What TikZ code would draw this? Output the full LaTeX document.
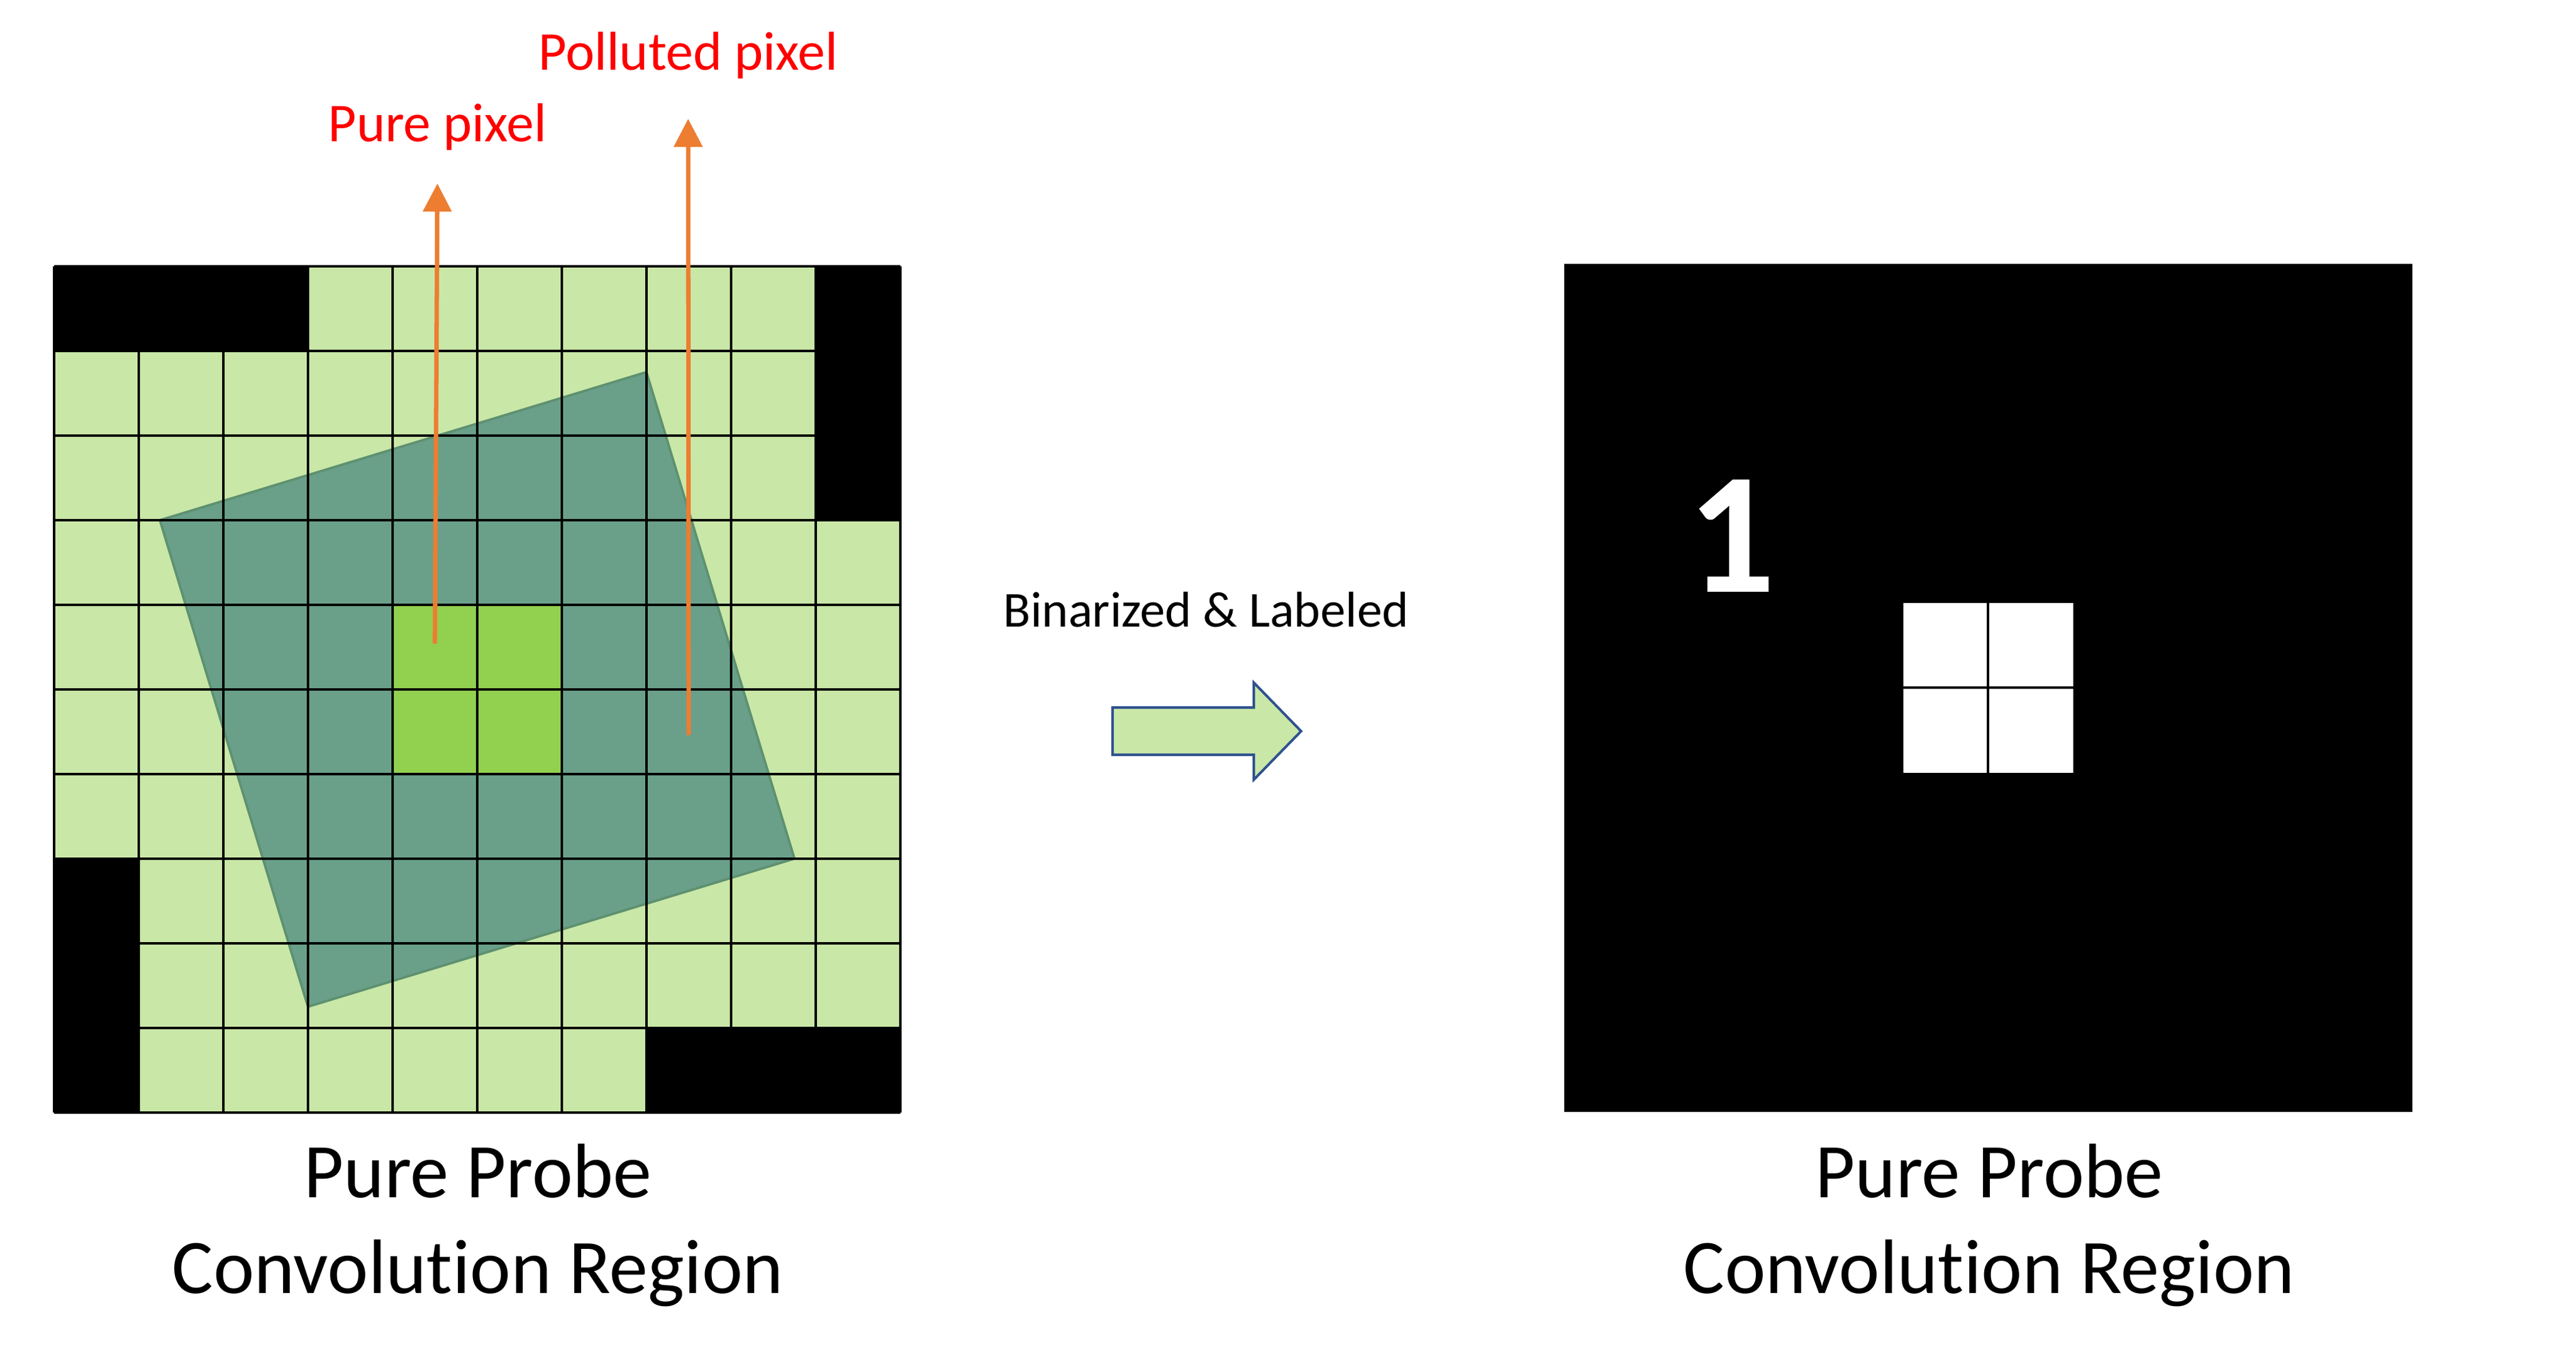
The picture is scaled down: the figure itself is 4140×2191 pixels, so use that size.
\documentclass[tikz,border=0pt]{standalone}
\usepackage{fontspec}
\setmainfont{Carlito}[Ligatures=NoCommon]
\usetikzlibrary{arrows.meta}
\definecolor{cellgreen}{RGB}{201,231,167}
\definecolor{brightgreen}{RGB}{146,208,80}
\definecolor{overlayfill}{RGB}{106,160,138}
\definecolor{overlayedge}{RGB}{94,145,112}
\definecolor{arroworange}{RGB}{237,125,49}
\definecolor{labelred}{RGB}{255,0,0}
\definecolor{arrowblue}{RGB}{47,82,143}
\tikzset{
  gridline/.style={black, line width=1.15pt},
  pointer/.style={arroworange, line width=2pt, -{Triangle[length=0.45cm, width=0.45cm]}},
  redlabel/.style={labelred, inner sep=0pt, anchor=base, font=\fontsize{25}{30}\selectfont},
  caption/.style={black, inner sep=0pt, anchor=base, font=\fontsize{35.3}{43.8}\selectfont},
  midlabel/.style={black, inner sep=0pt, anchor=base, font=\fontsize{23}{28}\selectfont},
  blockarrow/.style={fill=cellgreen, draw=arrowblue, line width=1.15pt, line join=miter},
}
\begin{document}
\begin{tikzpicture}[x=0.01cm, y=-0.01cm]
\useasboundingbox (0,0) rectangle (4140,2191);

% ---------- left grid ----------
\begin{scope}[shift={(87,428)}, x=1.359cm, y=-1.359cm]
  \fill[cellgreen] (0,0) rectangle (10,10);
  \fill[black] (0,0) rectangle (3,1);
  \fill[black] (9,0) rectangle (10,3);
  \fill[black] (0,7) rectangle (1,10);
  \fill[black] (7,9) rectangle (10,10);
  \filldraw[fill=overlayfill, draw=overlayedge, line width=1.1pt, line join=miter]
    (7,1.25) -- (8.75,7) -- (3,8.75) -- (1.25,3) -- cycle;
  \fill[brightgreen] (4,4) rectangle (6,6);
  \foreach \k in {0,...,10} {
    \draw[gridline] (\k,0) -- (\k,10);
    \draw[gridline] (0,\k) -- (10,\k);
  }
  \coordinate (pureStart) at (4.5,4.46);
  \coordinate (pollStart) at (7.5,5.54);
\end{scope}

% ---------- pointers ----------
\node[redlabel] (pureLabel) at (703,228) {Pure pixel};
\node[redlabel] (pollLabel) at (1106,113) {Polluted pixel};
\coordinate (pureTip) at (703,295);
\coordinate (pollTip) at (1106,191);
\draw[pointer] (pureStart) -- (pureTip);
\draw[pointer] (pollStart) -- (pollTip);

% ---------- middle ----------
\node[midlabel] (binLabel) at (1938,1007) {Binarized \& Labeled};
\draw[blockarrow] (1788,1137) -- (2015,1137) -- (2015,1097) -- (2091,1175)
  -- (2015,1253) -- (2015,1213) -- (1788,1213) -- cycle;

% ---------- right square ----------
\begin{scope}[shift={(2514,424)}, x=1.362cm, y=-1.362cm]
  \fill[black] (0,0) rectangle (10,10);
  \fill[white] (4,4) rectangle (6,6);
  \draw[gridline] (5,4) -- (5,6);
  \draw[gridline] (4,5) -- (6,5);
\end{scope}
\node[white, inner sep=0pt, anchor=base, font=\fontsize{79}{80}\selectfont\bfseries] (labelOne) at (2783,951) {1};

% ---------- captions ----------
\node[caption] (capL1) at (768,1924) {Pure Probe};
\node[caption] (capL2) at (768,2078) {Convolution Region};
\node[caption] (capR1) at (3197,1924) {Pure Probe};
\node[caption] (capR2) at (3197,2078) {Convolution Region};
\end{tikzpicture}
\end{document}
